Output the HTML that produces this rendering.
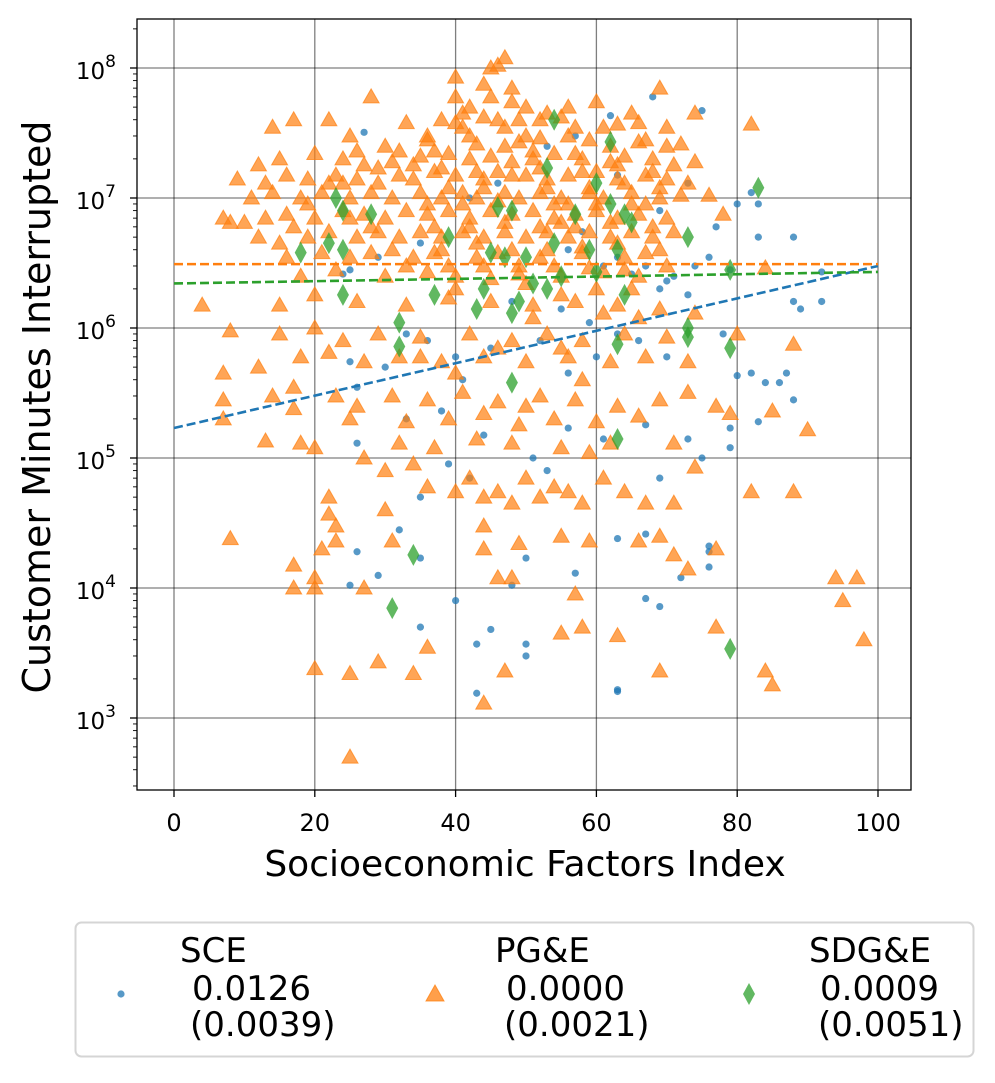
<!DOCTYPE html>
<html><head><meta charset="utf-8"><style>
html,body{margin:0;padding:0;background:#fff;}
svg text{font-family:"DejaVu Sans","Liberation Sans",sans-serif;}
</style></head><body>
<svg id="chart" width="995" height="1078" viewBox="0 0 995 1078" xmlns="http://www.w3.org/2000/svg">
<g id="grid"></g>
<g id="marks"></g>
<g id="axes"></g>
<g>
<rect x="75.5" y="922.5" width="898" height="134" rx="6" fill="#fff" stroke="#d5d5d5" stroke-width="2"/>
<circle cx="121" cy="994" r="3.6" fill="#1f77b4" fill-opacity="0.75"/>
<polygon points="435,985 444,1001 426,1001" fill="#ff7f0e" fill-opacity="0.75" stroke="#ff7f0e" stroke-opacity="0.75"/>
<polygon points="749,983 755,994 749,1005 743,994" fill="#2ca02c" fill-opacity="0.75"/>
<g font-size="34" fill="#000">
<text x="180" y="962">SCE</text>
<text x="192" y="1000">0.0126</text>
<text x="190" y="1036">(0.0039)</text>
<text x="495" y="962">PG&amp;E</text>
<text x="506" y="1000">0.0000</text>
<text x="504" y="1036">(0.0021)</text>
<text x="809" y="962">SDG&amp;E</text>
<text x="820" y="1000">0.0009</text>
<text x="818" y="1036">(0.0051)</text>
</g></g>
</svg>
<script>
const xTicks=[0,20,40,60,80,100];
const yTickExp=[3,4,5,6,7,8];
const pgeX=[45,47,46,40,44,48,69,28,60,42,50,53,38,55,65,74,14,22,33,41,47,57,63,70,82,17,25,30,36,43,49,52,59,66,72,12,15,20,24,27,31,35,39,42,45,48,51,54,58,62,64,68,71,74,9,13,16,19,23,26,29,32,34,37,40,44,46,50,53,56,60,63,67,70,73,11,14,18,21,25,28,31,35,38,41,43,47,49,52,55,59,61,65,69,72,76,7,8,10,13,16,20,24,27,30,33,36,39,42,45,48,51,54,57,60,63,66,70,78,12,15,19,22,26,29,32,35,38,41,44,47,50,53,56,59,62,65,68,71,16,21,25,28,34,37,43,46,52,58,64,67,18,23,30,36,40,49,55,61,66,84,4,15,20,26,33,39,45,51,57,63,69,74,
8,15,20,24,29,35,42,48,53,58,64,70,80,88,7,12,18,22,27,32,38,44,50,56,62,67,73,7,14,17,23,26,31,36,41,46,52,57,63,69,73,77,7,17,25,33,39,44,49,54,60,66,79,85,13,18,20,27,32,37,43,48,55,59,62,71,90,
22,22,23,23,30,30,34,36,40,42,44,46,48,50,52,54,56,58,61,64,67,71,74,82,88,8,21,31,44,44,49,55,59,66,69,71,73,77,17,17,20,20,27,46,48,57,77,94,95,97,98,55,58,63,36,29,34,20,25,47,44,69,84,85,25,
36,37,38,39,40,41,42,43,44,45,46,47,48,49,50,51,52,53,54,55,56,57,58,59,60,61,62,63,64,65,66,67,68,69,70,36,37,38,39,40,41,42,43,44,45,46,47,48,49,50,51,52,53,54,55,56,57,58,59,60,61,62,63,64,65,66,67,68,69,70,40,44,48,52,56,24,26,29,32,34,28,31,33,25,22,19,17,35,46,55,40,58,50];
const pgeY=[1e8,1.2e8,1.05e8,8.5e7,7.5e7,7e7,7e7,6e7,5.5e7,5e7,5e7,4.5e7,4e7,4.2e7,4.5e7,4.5e7,3.5e7,4e7,3.8e7,3.5e7,3.5e7,3.5e7,3.7e7,3.5e7,3.7e7,4e7,3e7,2.5e7,2.8e7,2.6e7,2.7e7,2.9e7,2.8e7,2.7e7,2.6e7,1.8e7,2e7,2.2e7,2e7,1.8e7,1.9e7,2.1e7,2.2e7,2e7,2.1e7,1.9e7,2e7,2.2e7,2e7,1.9e7,2.1e7,2e7,1.8e7,1.9e7,1.4e7,1.3e7,1.5e7,1.4e7,1.5e7,1.4e7,1.3e7,1.5e7,1.4e7,1.6e7,1.5e7,1.4e7,1.6e7,1.5e7,1.4e7,1.5e7,1.6e7,1.4e7,1.5e7,1.4e7,1.3e7,1e7,1.1e7,1e7,1.1e7,1e7,1.1e7,1e7,1.1e7,1e7,1.1e7,1e7,1.1e7,1e7,1.1e7,1e7,1.1e7,1e7,1.1e7,1e7,1.05e7,1.05e7,7e6,6.5e6,6.5e6,7e6,7.5e6,7e6,8e6,7.5e6,7e6,8e6,7.5e6,8e6,7e6,8e6,7.5e6,8e6,7e6,7.5e6,8e6,7e6,7.5e6,7e6,7.5e6,5e6,4.5e6,5e6,5.5e6,5e6,5.5e6,5e6,5.5e6,5e6,5.5e6,5e6,5.5e6,5e6,5.5e6,5e6,5.5e6,5e6,5.5e6,5e6,5.5e6,3.5e6,3.8e6,3.5e6,3.8e6,3.5e6,3.8e6,3.5e6,3.8e6,3.5e6,3.8e6,3.5e6,3.8e6,2.5e6,2.8e6,2.5e6,2.7e6,2.5e6,2.6e6,2.5e6,2.7e6,2.5e6,2.9e6,1.5e6,1.5e6,1.8e6,1.6e6,1.5e6,1.7e6,1.6e6,1.5e6,1.6e6,1.5e6,1.4e6,1.3e6,
9.5e5,9e5,1e6,8e5,9e5,8.5e5,9e5,8e5,9e5,8e5,9e5,8.5e5,9e5,7.5e5,4.5e5,5e5,6e5,6.5e5,5.5e5,6e5,5.5e5,6e5,5.5e5,6e5,5.5e5,6e5,5.5e5,2.8e5,3e5,3.5e5,3e5,2.5e5,3e5,2.8e5,3.2e5,2.7e5,3e5,2.8e5,2.5e5,2.8e5,3.2e5,2.5e5,2e5,2.4e5,2e5,1.9e5,2e5,2.2e5,1.8e5,2e5,1.9e5,2.1e5,2.2e5,2.3e5,1.35e5,1.3e5,1.2e5,1e5,1.3e5,1.2e5,1.4e5,1.3e5,1.2e5,1.1e5,1.3e5,1.3e5,1.65e5,
5e4,3.7e4,3e4,2.3e4,8e4,4e4,9e4,6e4,5.5e4,7e4,5e4,5.5e4,4.5e4,7e4,5e4,6e4,5.5e4,4.5e4,7e4,5.5e4,4.5e4,4.5e4,8.5e4,5.5e4,5.5e4,2.4e4,2e4,2.3e4,3e4,2e4,2.2e4,2.5e4,2.3e4,2.3e4,2.5e4,1.8e4,1.4e4,2e4,1.5e4,1e4,1.2e4,1e4,1e4,1.2e4,1.2e4,9e3,5e3,1.2e4,8e3,1.2e4,4e3,4.5e3,5e3,4.3e3,3.5e3,2.7e3,2.2e3,2.4e3,2.2e3,2.3e3,1.3e3,2.3e3,2.3e3,1.8e3,5e2,
3e7,2.3e7,1.7e7,1.2e7,6e7,4.5e7,3e7,1.6e7,1.2e7,6e7,4e7,2.5e7,1.5e7,4e7,3e7,2.3e7,1.7e7,1.2e7,9e6,6.5e6,3e7,2.2e7,1.6e7,1.2e7,9e6,3.5e7,2.5e7,1.8e7,1.3e7,9e6,3.8e7,2.8e7,1.6e7,1.2e7,2.5e7,9e6,6e6,4e6,3e6,2e6,9e6,6e6,4.5e6,3e6,2.4e6,9.5e6,6.5e6,4e6,3e6,2.2e6,1.2e6,6e6,4e6,3e6,1.8e6,9e6,6e6,4.2e6,2.9e6,2e6,1.3e6,6.5e6,4.5e6,2.8e6,2e6,1.2e6,9e6,6e6,4e6,3e6,3.8e7,4.2e7,5.5e7,4e7,5e7,1.3e7,2.3e7,1.7e7,2.3e7,1.8e7,6e6,4e6,3e6,7e6,1.3e7,9e6,6e6,6e5,7e5,7e5,4.5e5,4e5,2.5e5];
const sceX=[27,57,62,68,75,53,63,73,82,83,80,69,77,83,88,56,61,67,76,71,74,79,92,65,69,73,88,92,89,48,55,59,63,66,70,78,82,84,87,86,80,60,52,45,40,36,33,30,25,26,41,56,61,67,73,75,79,79,83,88,33,38,44,51,53,56,39,42,35,26,32,26,29,25,35,48,50,57,63,67,69,76,76,76,35,40,43,45,50,50,67,69,63,63,43,72,70,63,58,42,46,35,29,24,25];
const sceY=[3.2e7,3e7,4.3e7,6e7,4.7e7,2.5e7,1.5e7,1.3e7,1.1e7,9e6,9e6,8e6,6e6,5e6,5e6,4e6,3e6,3e6,3.5e6,2.5e6,3e6,2.8e6,2.7e6,2.6e6,2e6,1.8e6,1.6e6,1.6e6,1.4e6,1.6e6,1.4e6,1.1e6,9e5,8e5,6e5,9e5,4.5e5,3.8e5,4.5e5,3.8e5,4.3e5,6e5,8e5,7e5,6e5,8e5,9e5,5e5,5.5e5,3.5e5,4e5,4.5e5,1.4e5,1.8e5,1.4e5,1e5,1.2e5,1.7e5,1.9e5,2.8e5,2e5,2.3e5,1.5e5,1e5,8e4,1.7e5,9e4,7e4,5e4,1.3e5,2.8e4,1.9e4,1.25e4,1.05e4,1.7e4,1.05e4,1.7e4,1.3e4,2.4e4,2.6e4,7e4,2.1e4,1.9e4,1.45e4,5e3,8e3,3.7e3,4.8e3,3.7e3,3e3,8.3e3,7.2e3,1.6e3,1.65e3,1.55e3,1.2e4,2.3e6,3.5e6,5.5e6,1e7,1.3e7,4.5e6,3.5e6,2.6e6,2.8e6];
const sdgeX=[54,62,83,53,60,62,64,65,57,46,48,23,24,28,22,24,18,39,45,47,50,54,59,63,73,60,64,51,53,49,48,44,43,37,32,32,24,73,73,79,63,48,63,34,31,79,79,55];
const sdgeY=[4e7,2.7e7,1.2e7,1.7e7,1.3e7,9e6,7.5e6,6.5e6,7.5e6,8.5e6,8e6,1e7,8e6,7.5e6,4.5e6,4e6,3.8e6,5e6,3.8e6,3.5e6,3.5e6,4.5e6,4e6,4e6,5e6,2.7e6,1.8e6,2.2e6,2e6,1.6e6,1.3e6,2e6,1.4e6,1.8e6,1.1e6,7.2e5,1.8e6,1e6,8.5e5,7e5,7.5e5,3.8e5,1.4e5,1.8e4,7e3,3.4e3,2.8e6,2.5e6];
const trendX=[0,100];
const sceTrend=[1.7e5,3e6];
const pgeTrend=[3.1e6,3.1e6];
const sdgeTrend=[2.2e6,2.7e6];

const NS='http://www.w3.org/2000/svg';
const L=137,R=911,T=19,B=790;
function sx(v){return 174+v*7.04;}
function sy(v){return 718-(Math.log10(v)-3)*130;}
function mk(tag,attrs,parent){const e=document.createElementNS(NS,tag);for(const k in attrs)e.setAttribute(k,attrs[k]);parent.appendChild(e);return e;}
const grid=document.getElementById('grid'),marks=document.getElementById('marks'),axes=document.getElementById('axes');
mk('rect',{x:L,y:T,width:R-L,height:B-T,fill:'#fff'},grid);
xTicks.forEach(t=>{const l=mk('line',{x1:sx(t),x2:sx(t),y1:T,y2:B,stroke:'#000','stroke-opacity':0.5,'stroke-width':1.3},grid);


const tk=mk('line',{x1:sx(t),x2:sx(t),y1:B,y2:B+7,stroke:'#000','stroke-width':1.3},axes);


const tx=mk('text',{x:sx(t),y:831,'text-anchor':'middle','font-size':24},axes);tx.textContent=t;

});
yTickExp.forEach(e=>{const y=sy(Math.pow(10,e));const l=mk('line',{x1:L,x2:R,y1:y,y2:y,stroke:'#000','stroke-opacity':0.5,'stroke-width':1.3},grid);


const tk=mk('line',{x1:L-7,x2:L,y1:y,y2:y,stroke:'#000','stroke-width':1.3},axes);


const tx=mk('text',{x:L-21,y:y+11,'text-anchor':'end','font-size':23},axes);


tx.innerHTML='10<tspan dy="-12" font-size="17">'+e+'</tspan>';
for(let m=2;m<10;m++){const v=m*Math.pow(10,e-1);const yy=sy(v);if(yy<T||yy>B)continue;mk('line',{x1:L-4,x2:L,y1:yy,y2:yy,stroke:'#000','stroke-width':0.9},axes);}
});
for(let m=2;m<10;m++){const yy=sy(m*1e8);if(yy>=T)mk('line',{x1:L-4,x2:L,y1:yy,y2:yy,stroke:'#000','stroke-width':0.9},axes);}
mk('rect',{x:L,y:T,width:R-L,height:B-T,fill:'none',stroke:'#000','stroke-width':1.3},axes);
let xl=mk('text',{x:525,y:876,'text-anchor':'middle','font-size':36},axes);xl.textContent='Socioeconomic Factors Index';


let yl=mk('text',{x:0,y:0,'text-anchor':'middle','font-size':38,transform:'translate(50,407) rotate(-90)'},axes);yl.textContent='Customer Minutes Interrupted';



sceX.forEach((x,i)=>{const c=mk('circle',{cx:sx(x),cy:sy(sceY[i]),r:3.6,fill:'#1f77b4','fill-opacity':0.75},marks);

});
pgeX.forEach((x,i)=>{const X=sx(x),Y=sy(pgeY[i]);const p=mk('polygon',{points:`${X},${Y-8} ${X+8},${Y+6} ${X-8},${Y+6}`,fill:'#ff7f0e','fill-opacity':0.7,stroke:'#ff7f0e','stroke-opacity':0.7,'stroke-width':1},marks);

});
sdgeX.forEach((x,i)=>{const X=sx(x),Y=sy(sdgeY[i]);const p=mk('polygon',{points:`${X},${Y-11} ${X+6},${Y} ${X},${Y+11} ${X-6},${Y}`,fill:'#2ca02c','fill-opacity':0.75},marks);

});
[[sceTrend,'#1f77b4','sce-trend-line'],[pgeTrend,'#ff7f0e','pge-trend-line'],[sdgeTrend,'#2ca02c','sdge-trend-line']].forEach(([ys,c,n])=>{
const l=mk('line',{x1:sx(trendX[0]),y1:sy(ys[0]),x2:sx(trendX[1]),y2:sy(ys[1]),stroke:c,'stroke-width':2.6,'stroke-dasharray':'9,4'},marks);

});
</script>
</body></html>
